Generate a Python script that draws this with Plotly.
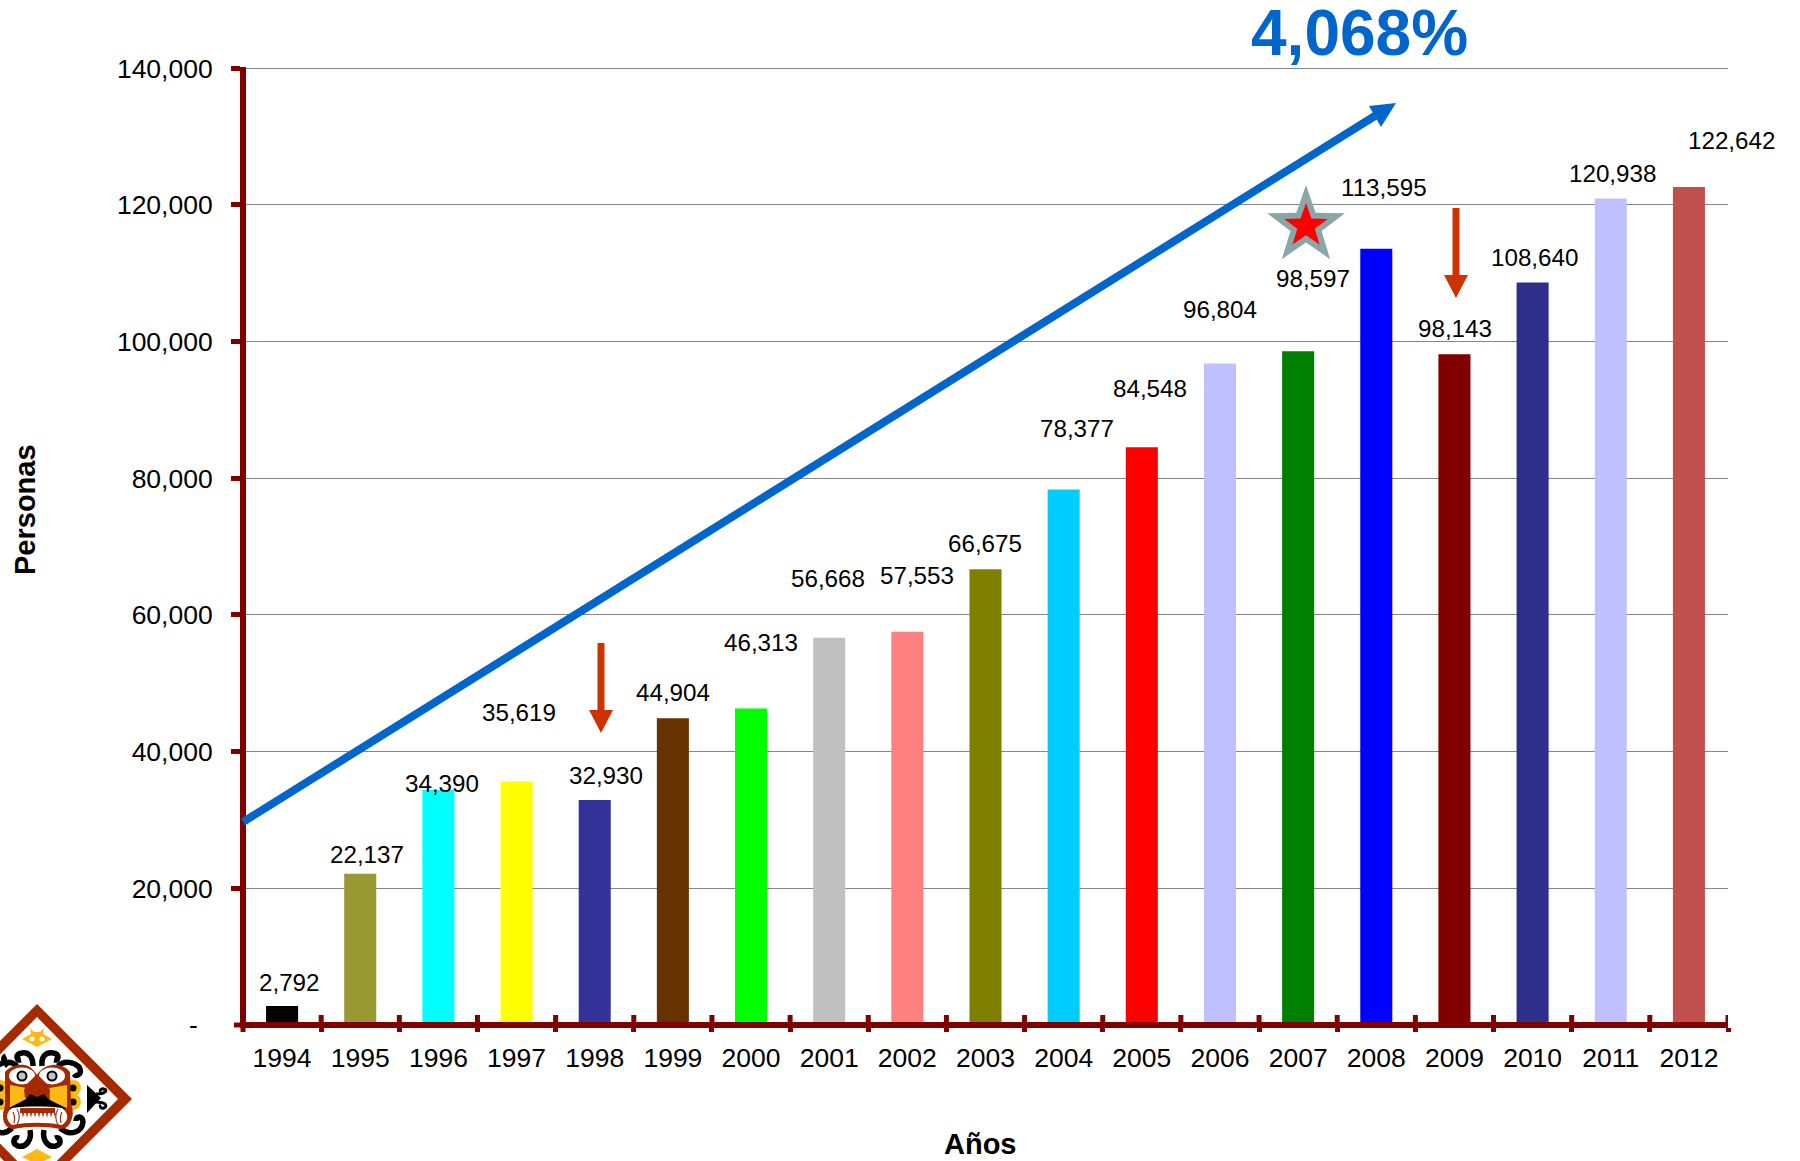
import math
import plotly.graph_objects as go

years = [str(y) for y in range(1994, 2013)]
personas = [2792, 22137, 34390, 35619, 32930, 44904, 46313, 56668, 57553, 66675,
            78377, 84548, 96804, 98597, 113595, 98143, 108640, 120938, 122642]
bar_colors = ["#000000", "#999933", "#00FFFF", "#FFFF00", "#333399", "#663300", "#00FF00",
              "#C0C0C0", "#FF8080", "#808000", "#00CCFF", "#FF0000", "#C0C0FF", "#008000",
              "#0000FF", "#800000", "#2E2E8B", "#C0C0FF", "#C0504D"]
y_ticks = [0, 20000, 40000, 60000, 80000, 100000, 120000, 140000]
y_tick_labels = ["-\u00a0\u00a0", "20,000", "40,000", "60,000", "80,000", "100,000", "120,000", "140,000"]
growth_label = "4,068%"
x_title = "Años"
y_title = "Personas"

# label centres on the page, in pixels (labels sit irregularly in the original)
label_px = [(289, 982), (367, 854), (442, 783), (519, 712), (606, 776), (673, 692), (761, 642),
            (828, 578), (917, 575), (985, 543), (1077, 428), (1150, 388), (1220, 310), (1313, 279),
            (1384, 187), (1455, 328), (1534, 257), (1612, 173), (1731, 140)]

W, H = 1800, 1161
L, R, T, B = 246, 1728, 67, 1022        # plot box; the axis lines sit just outside it
X0, Y0, Y140 = 243, 1025, 68.3          # page pixels of first category edge, value 0 and value 140,000
CAT_W = (R - X0) / len(years)
PX_PER_UNIT = (Y0 - Y140) / 140000
FONT = "Liberation Sans, Arial, sans-serif"
AXIS = "#800000"


def fx(x):
    return (x - L) / (R - L)


def fy(y):
    return (B - y) / (B - T)


def path(cmds):
    """cmds: list like ('M', x, y), ('L', x, y), ('C', x1, y1, x2, y2, x, y), ('Z',)"""
    out = []
    for c in cmds:
        vals = []
        for i, v in enumerate(c[1:]):
            vals.append(f"{fx(v) if i % 2 == 0 else fy(v):.5f}")
        out.append(c[0] + " " + ",".join(vals) if vals else c[0])
    return " ".join(out)


shapes = []


def poly(pts, color):
    cmds = [("M", *pts[0])] + [("L", *p) for p in pts[1:]] + [("Z",)]
    shapes.append(dict(type="path", xref="paper", yref="paper", path=path(cmds),
                       fillcolor=color, line=dict(width=0), layer="above"))


def curve(cmds, color, width):
    shapes.append(dict(type="path", xref="paper", yref="paper", path=path(cmds),
                       line=dict(color=color, width=width), layer="above"))


def blob(cmds, color):
    shapes.append(dict(type="path", xref="paper", yref="paper", path=path(cmds),
                       fillcolor=color, line=dict(width=0), layer="above"))


def ellipse(cx, cy, rx, ry, color):
    shapes.append(dict(type="circle", xref="paper", yref="paper", x0=fx(cx - rx), x1=fx(cx + rx),
                       y0=fy(cy + ry), y1=fy(cy - ry), fillcolor=color, line=dict(width=0), layer="above"))


def star(cx, cy, r, color):
    pts = []
    for i in range(10):
        rad = r if i % 2 == 0 else r * 0.40
        a = -math.pi / 2 + i * math.pi / 5
        pts.append((cx + rad * math.cos(a), cy + rad * math.sin(a)))
    poly(pts, color)


# inner tick halves on the x axis, plus the lower half of the first tick
for i in range(1, len(years) + 1):
    shapes.append(dict(type="line", xref="x", yref="paper", x0=i - 0.5, x1=i - 0.5, y0=0, y1=fy(1015),
                       line=dict(color=AXIS, width=5), layer="above"))
shapes.append(dict(type="line", xref="paper", yref="paper", x0=fx(X0), x1=fx(X0), y0=fy(1015), y1=fy(1032),
                   line=dict(color=AXIS, width=5), layer="above"))

# growth arrow
curve([("M", 243, 822), ("L", 1378, 114)], "#0066CC", 8)
poly([(1396, 103), (1369, 106), (1381, 127)], "#0066CC")

# red arrows
for ax, y0, yb, yt in [(601, 643, 710, 733), (1456, 208, 275, 298)]:
    poly([(ax - 3.5, y0), (ax + 3.5, y0), (ax + 3.5, yb), (ax + 12, yb), (ax, yt), (ax - 12, yb), (ax - 3.5, yb)],
         "#CC3300")

# star
star(1306, 226, 41, "#8BA5A8")
star(1306, 226, 23, "#FF0000")

# logo
BR = "#A52A00"
YE = "#FDB913"
poly([(37, 1004), (132, 1099), (37, 1194), (-58, 1099)], BR)
poly([(37, 1017), (118, 1099), (37, 1181), (-44, 1099)], "#FFFFFF")
poly([(22, 1039), (31, 1034), (30, 1028), (34, 1032), (40, 1032), (44, 1028), (43, 1034), (52, 1039), (37, 1047)], YE)
ellipse(32, 1039, 2.5, 2.5, "#FFFFFF")
ellipse(42, 1039, 2.5, 2.5, "#FFFFFF")
poly([(22, 1157), (37, 1149), (52, 1157), (44, 1161), (30, 1161)], YE)
for cmds in [
    [("M", 33, 1066), ("C", 33, 1056, 28, 1052, 22, 1053), ("C", 15, 1054, 16, 1061, 21, 1060)],
    [("M", 42, 1066), ("C", 41, 1056, 46, 1052, 53, 1053), ("C", 60, 1054, 59, 1061, 54, 1060)],
    [("M", 58, 1066), ("C", 64, 1060, 74, 1062, 79, 1067), ("C", 83, 1073, 77, 1078, 74, 1074)],
    [("M", 17, 1066), ("C", 11, 1060, 1, 1062, -4, 1067)],
    [("M", 8, 1066), ("C", 4, 1062, 2, 1058, 6, 1056)],
    [("M", 44, 1130), ("C", 42, 1140, 48, 1148, 56, 1146), ("C", 63, 1143, 60, 1136, 55, 1138)],
    [("M", 30, 1130), ("C", 32, 1140, 26, 1148, 18, 1146), ("C", 11, 1143, 14, 1136, 19, 1138)],
    [("M", 60, 1128), ("C", 70, 1137, 82, 1132, 83, 1122), ("C", 83, 1116, 76, 1115, 76, 1121)],
    [("M", 12, 1128), ("C", 6, 1134, 0, 1134, -4, 1130)],
]:
    curve(cmds, "#000000", 5.5)
poly([(87, 1085), (101, 1098), (87, 1113)], "#000000")
curve([("M", 96, 1094), ("C", 106, 1094, 108, 1090, 104, 1089), ("C", 101, 1088, 99, 1091, 101, 1092)], "#000000", 3)
curve([("M", 96, 1102), ("C", 106, 1102, 108, 1106, 104, 1108), ("C", 101, 1109, 99, 1106, 101, 1105)], "#000000", 3)
for cy in (1088, 1102):
    ellipse(73, cy, 8, 8, YE)
    ellipse(73, cy, 3.5, 3.5, "#000000")
    ellipse(0, cy, 8, 8, YE)
    ellipse(0, cy, 3.5, 3.5, "#000000")
blob([("M", 5, 1072), ("C", 10, 1066, 18, 1064, 25, 1065), ("C", 30, 1066, 34, 1070, 37, 1075),
      ("C", 40, 1070, 45, 1066, 52, 1065), ("C", 60, 1064, 66, 1067, 70, 1072), ("L", 71, 1103),
      ("C", 72, 1108, 74, 1112, 72, 1118), ("C", 70, 1126, 66, 1129, 60, 1129), ("C", 46, 1126, 28, 1126, 14, 1129),
      ("C", 8, 1129, 3, 1125, 3, 1116), ("C", 3, 1110, 6, 1106, 5, 1100), ("Z",)], BR)
poly([(10, 1085), (27, 1088), (26, 1103), (10, 1108)], YE)
poly([(49, 1088), (67, 1085), (67, 1108), (50, 1103)], YE)
ellipse(22, 1076, 13, 8.5, "#FFFFFF")
ellipse(52, 1076, 13, 8.5, "#FFFFFF")
ellipse(22, 1076, 5.5, 5.5, "#000000")
ellipse(52, 1076, 5.5, 5.5, "#000000")
ellipse(22, 1076, 3.5, 3.5, "#B8C4D0")
ellipse(52, 1076, 3.5, 3.5, "#B8C4D0")
poly([(37, 1074), (47, 1084), (50, 1090), (49, 1098), (25, 1098), (24, 1090), (27, 1084)], BR)
poly([(9, 1108), (26, 1099), (30, 1094), (37, 1097), (44, 1094), (48, 1099), (66, 1108), (60, 1112), (15, 1112)], "#000000")
blob([("M", 12, 1108), ("C", 28, 1106, 46, 1106, 62, 1108), ("C", 68, 1112, 70, 1120, 62, 1125),
      ("C", 46, 1122, 28, 1122, 12, 1125), ("C", 5, 1120, 6, 1112, 12, 1108), ("Z",)], "#FFFFFF")
poly([(20, 1108), (55, 1108), (55, 1113), (20, 1113)], BR)
for tx in range(22, 55, 4):
    poly([(tx, 1113), (tx + 2, 1113), (tx + 1, 1118)], BR)
for side, sign in ((17, 1), (58, -1)):
    curve([("M", side, 1109), ("C", side + 3 * sign, 1114, side + 3 * sign, 1119, side, 1125)], "#555566", 1.2)
    curve([("M", side - 4 * sign, 1112), ("C", side - 2 * sign, 1116, side - 2 * sign, 1119, side - 3 * sign, 1123)], "#A52A00", 1.2)

annotations = [
    dict(x=fx(px), y=fy(py), xref="paper", yref="paper", text=f"{v:,}", showarrow=False,
         xanchor="center", yanchor="middle", font=dict(family=FONT, size=24.2, color="#000000"))
    for v, (px, py) in zip(personas, label_px)
]
annotations += [
    dict(x=fx(1359), y=fy(33), xref="paper", yref="paper", text=f"<b>{growth_label}</b>", showarrow=False,
         xanchor="center", yanchor="middle", font=dict(family=FONT, size=64, color="#0066CC")),
    dict(x=fx(980), y=fy(1144), xref="paper", yref="paper", text=f"<b>{x_title}</b>", showarrow=False,
         xanchor="center", yanchor="middle", font=dict(family=FONT, size=29, color="#000000")),
    dict(x=fx(25), y=fy(510), xref="paper", yref="paper", text=f"<b>{y_title}</b>", showarrow=False,
         textangle=-90, xanchor="center", yanchor="middle", font=dict(family=FONT, size=29, color="#000000")),
]

fig = go.Figure(go.Bar(x=years, y=personas, marker=dict(color=bar_colors, line=dict(width=0)),
                       width=0.41, showlegend=False, hoverinfo="x+y"))
fig.update_layout(
    width=W, height=H, margin=dict(l=L, r=W - R, t=T, b=H - B, pad=0, autoexpand=False),
    paper_bgcolor="#FFFFFF", plot_bgcolor="#FFFFFF", showlegend=False,
    font=dict(family=FONT, color="#000000"), shapes=shapes, annotations=annotations,
    xaxis=dict(type="category", categoryorder="array", categoryarray=years,
               range=[-0.5 + (L - X0) / CAT_W, len(years) - 0.5],
               showline=True, linecolor=AXIS, linewidth=6, ticks="outside", ticklen=4, tickwidth=5,
               tickcolor=AXIS, tickson="boundaries", showgrid=False, zeroline=False,
               tickfont=dict(family=FONT, size=26.5), ticklabelstandoff=7),
    yaxis=dict(range=[(Y0 - B) / PX_PER_UNIT, (Y0 - T) / PX_PER_UNIT],
               tickmode="array", tickvals=y_ticks[1:], ticktext=y_tick_labels[1:], showline=True, linecolor=AXIS,
               linewidth=6, ticks="outside", ticklen=9, tickwidth=5, tickcolor=AXIS, showgrid=True,
               gridcolor="#868686", gridwidth=1.2, zeroline=False,
               tickfont=dict(family=FONT, size=26.5), ticklabelstandoff=13),
)
# the value 0 lies under the x axis line, below the plot box, so its tick and label are added by hand
fig.add_shape(type="line", xref="paper", yref="paper", x0=fx(234), x1=fx(243), y0=fy(Y0), y1=fy(Y0),
              line=dict(color=AXIS, width=5), layer="above")
fig.add_annotation(x=fx(193), y=fy(Y0), xref="paper", yref="paper", text=y_tick_labels[0].strip("\u00a0"),
                   showarrow=False, xanchor="center", yanchor="middle", font=dict(family=FONT, size=26.5))
fig.write_html("out.html", config=dict(displayModeBar=False),
               post_script="document.body.style.margin='0';document.body.style.overflow='hidden';")
